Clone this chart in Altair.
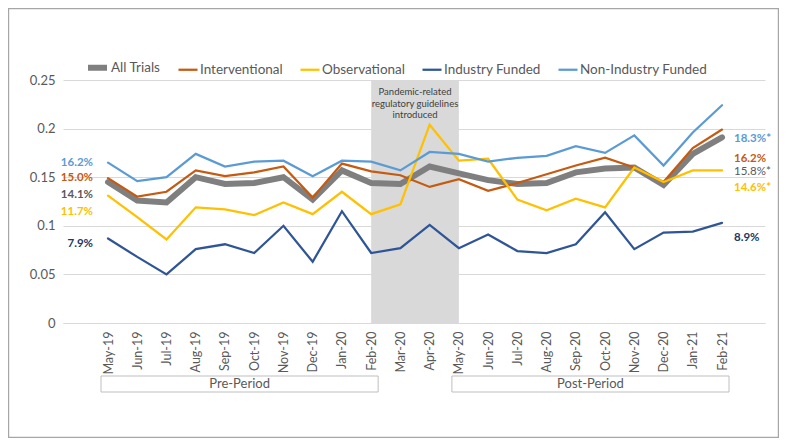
import altair as alt
import pandas as pd

months = ["May-19", "Jun-19", "Jul-19", "Aug-19", "Sep-19", "Oct-19", "Nov-19", "Dec-19",
          "Jan-20", "Feb-20", "Mar-20", "Apr-20", "May-20", "Jun-20", "Jul-20", "Aug-20",
          "Sep-20", "Oct-20", "Nov-20", "Dec-20", "Jan-21", "Feb-21"]

series_names = ["All Trials", "Interventional", "Observational", "Industry Funded", "Non-Industry Funded"]
series_colors = ["#7f7f7f", "#c55a11", "#ffc000", "#2f5597", "#5b9bd5"]
series_widths = [6, 2.25, 2.25, 2.25, 2.25]

all_trials = [0.145, 0.126, 0.124, 0.150, 0.143, 0.144, 0.150, 0.127, 0.157, 0.144, 0.143,
              0.161, 0.154, 0.147, 0.143, 0.144, 0.155, 0.159, 0.160, 0.142, 0.174, 0.191]
interventional = [0.149, 0.130, 0.135, 0.157, 0.151, 0.155, 0.161, 0.129, 0.164, 0.156, 0.152,
                  0.140, 0.148, 0.136, 0.144, 0.153, 0.162, 0.170, 0.160, 0.145, 0.180, 0.199]
observational = [0.131, 0.109, 0.086, 0.119, 0.117, 0.111, 0.124, 0.112, 0.135, 0.112, 0.122,
                 0.204, 0.167, 0.169, 0.127, 0.116, 0.128, 0.119, 0.160, 0.145, 0.157, 0.157]
industry = [0.087, 0.068, 0.050, 0.076, 0.081, 0.072, 0.100, 0.063, 0.115, 0.072, 0.077,
            0.101, 0.077, 0.091, 0.074, 0.072, 0.081, 0.114, 0.076, 0.093, 0.094, 0.103]
non_industry = [0.165, 0.146, 0.150, 0.174, 0.161, 0.166, 0.167, 0.151, 0.167, 0.166, 0.157,
                0.176, 0.174, 0.166, 0.170, 0.172, 0.182, 0.175, 0.193, 0.162, 0.196, 0.224]

left_labels = ["16.2%", "15.0%", "14.1%", "11.7%", "7.9%"]
left_label_y = [0.1643, 0.1489, 0.1314, 0.1140, 0.0811]
left_label_colors = ["#5b9bd5", "#c55a11", "#595959", "#ffc000", "#203864"]

right_labels = ["18.3%*", "16.2%", "15.8%*", "14.6%*", "8.9%"]
right_label_y = [0.1889, 0.1690, 0.1555, 0.1386, 0.0873]
right_label_colors = ["#5b9bd5", "#c55a11", "#595959", "#ffc000", "#203864"]
right_label_bold = [True, True, False, True, True]

shade_start, shade_end = "Feb-20", "May-20"
shade_text = ["Pandemic-related", "regulatory guidelines", "introduced"]

periods = ["Pre-Period", "Post-Period"]
period_start = ["May-19", "May-20"]
period_end = ["Feb-20", "Feb-21"]

FONT = "Lato"
W, H = 702, 243
PAD = {"left": 55, "top": 72, "right": 14, "bottom": 115}

idx = {m: i for i, m in enumerate(months)}

rows = []
for name, vals in zip(series_names, [all_trials, interventional, observational, industry, non_industry]):
    for m, v in zip(months, vals):
        rows.append({"xi": idx[m], "month": m, "series": name, "value": v})
df = pd.DataFrame(rows)

label_array = "[" + ",".join(f"'{m}'" for m in months) + "]"
x_scale = alt.Scale(domain=[-1.54, 22.47], nice=False, zero=False)
x_axis = alt.Axis(title=None, values=list(range(len(months))),
                  labelExpr=f"{label_array}[datum.value]",
                  labelAngle=270, labelColor="#595959", labelFontSize=12.5,
                  labelFont=FONT, ticks=False, domainColor="#d9d9d9", labelPadding=8,
                  grid=False)
y_scale = alt.Scale(domain=[0, 0.25], nice=False, zero=True)
y_axis = alt.Axis(title=None, values=[0, 0.05, 0.1, 0.15, 0.2, 0.25], format="~g",
                  labelColor="#595959", labelFontSize=13, labelFont=FONT, ticks=False,
                  domain=False, gridColor="#d9d9d9", labelPadding=8)


def X(field):
    return alt.X(f"{field}:Q", scale=x_scale, axis=x_axis)


def Y(field):
    return alt.Y(f"{field}:Q", scale=y_scale, axis=y_axis)


shade_df = pd.DataFrame({"start": [idx[shade_start]], "end": [idx[shade_end]],
                         "y0": [0.0], "y1": [0.25]})
shade = alt.Chart(shade_df).mark_rect(color="#d9d9d9").encode(
    x=X("start"), x2="end", y=Y("y0"), y2="y1")

shade_txt_df = pd.DataFrame({"xm": [(idx[shade_start] + idx[shade_end]) / 2],
                             "t": [shade_text], "yv": [0.25]})
shade_txt = alt.Chart(shade_txt_df).mark_text(
    font=FONT, fontSize=9.5, color="#404040", baseline="top", align="center",
    dy=7, lineHeight=11.5).encode(x=X("xm"), y=Y("yv"), text="t")

legend = alt.Legend(title=None, orient="none", legendX=22, legendY=-25, direction="horizontal",
                    symbolType="stroke", symbolSize=361, labelFont=FONT, labelFontSize=13.5,
                    labelColor="#595959", columnPadding=13, labelOffset=1)

lines = alt.Chart(df).mark_line(strokeCap="round").encode(
    x=X("xi"), y=Y("value"),
    color=alt.Color("series:N", scale=alt.Scale(domain=series_names, range=series_colors),
                    legend=legend),
    strokeWidth=alt.StrokeWidth("series:N",
                                scale=alt.Scale(type="ordinal", domain=series_names,
                                                range=series_widths),
                                legend=legend),
)

left_df = pd.DataFrame({"xi": [0] * 5, "t": left_labels, "yv": left_label_y,
                        "c": left_label_colors})
left_txt = alt.Chart(left_df).mark_text(font=FONT, fontSize=11.5, fontWeight="bold",
                                        align="right", baseline="middle", dx=-15).encode(
    x=X("xi"), y=Y("yv"), text="t", fill=alt.Fill("c:N", scale=None))

right_df = pd.DataFrame({"xi": [len(months) - 1] * 5, "t": right_labels, "yv": right_label_y,
                         "c": right_label_colors, "b": right_label_bold})
right_bold = alt.Chart(right_df).transform_filter("datum.b").mark_text(
    font=FONT, fontSize=11.5, fontWeight="bold", align="left", baseline="middle", dx=12).encode(
    x=X("xi"), y=Y("yv"), text="t", fill=alt.Fill("c:N", scale=None))
right_norm = alt.Chart(right_df).transform_filter("!datum.b").mark_text(
    font=FONT, fontSize=11.5, align="left", baseline="middle", dx=12).encode(
    x=X("xi"), y=Y("yv"), text="t", fill=alt.Fill("c:N", scale=None))

per_df = pd.DataFrame({"start": [idx[m] for m in period_start], "end": [idx[m] for m in period_end],
                       "t": periods})
per_df["mid"] = (per_df["start"] + per_df["end"]) / 2
boxes = alt.Chart(per_df).mark_rect(fill="white", stroke="#bfbfbf", strokeWidth=1,
                                    xOffset=-7, x2Offset=7).encode(
    x=X("start"), x2="end", y=alt.value(H + 53), y2=alt.value(H + 69))
box_txt = alt.Chart(per_df).mark_text(font=FONT, fontSize=13, color="#595959",
                                      baseline="middle").encode(
    x=X("mid"), y=alt.value(H + 61), text="t")

border = alt.Chart(pd.DataFrame({"a": [0]})).mark_rect(filled=False, stroke="#a6a6a6",
                                                       strokeWidth=1.2).encode(
    x=alt.value(-PAD["left"] + 0.6), x2=alt.value(W + PAD["right"] - 0.6),
    y=alt.value(-PAD["top"] + 0.6), y2=alt.value(H + PAD["bottom"] - 0.6))

chart = alt.layer(shade, shade_txt, lines, left_txt, right_bold, right_norm,
                  boxes, box_txt, border).properties(
    width=W, height=H, padding=PAD, autosize=alt.AutoSizeParams(type="none"),
    background="white"
).configure_view(stroke=None)

chart.save("out.html", embed_options={"renderer": "svg", "actions": False})
